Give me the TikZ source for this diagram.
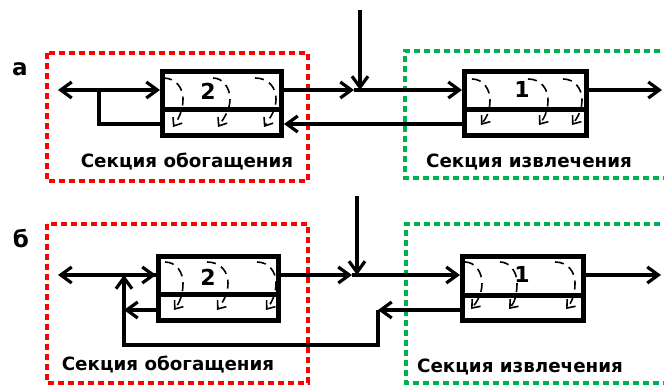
\documentclass[tikz,border=0pt]{standalone}
\usepackage{fontspec}
\setmainfont{DejaVu Sans}
\usetikzlibrary{arrows.meta,calc}
\begin{document}
\begin{tikzpicture}[x=1pt,y=-1pt,
  conn/.style={line width=3.2pt},
  tip/.style={-{Straight Barb[length=11pt,width=16pt]}},
  boxst/.style={draw, line width=5pt, inner sep=0pt, minimum height=64pt},
  divider/.style={line width=5pt},
  swirl/.style={line width=1.6pt, dash pattern=on 9pt off 6pt, -{Straight Barb[length=7pt,width=11pt]}},
  lbl/.style={font=\bfseries\fontsize{23}{26}\selectfont, inner sep=0pt},
  num/.style={font=\bfseries\fontsize{22}{26}\selectfont, inner sep=0pt},
  sec/.style={font=\bfseries\fontsize{18.3}{22}\selectfont, inner sep=0pt}]
\useasboundingbox (0,0) rectangle (664,385);
\definecolor{secgreen}{RGB}{0,176,80}
\tikzset{redsec/.style={draw=red, line width=3.2pt, dash pattern=on 6pt off 4pt},
         greensec/.style={draw=secgreen, line width=3.2pt, dash pattern=on 6pt off 4pt}}

% ---------- section frames ----------
\draw[redsec] (47,53) rectangle (308,181);
\draw[greensec] (680,51) -- (405,51) -- (405,178) -- (680,178);
\draw[redsec] (47,224) rectangle (308,383);
\draw[greensec] (680,224) -- (406,224) -- (406,383) -- (680,383);

% ---------- labels ----------
\node[lbl] (la) at (20,69) {а};
\node[lbl] (lb) at (21,239) {б};

% ================= a =================
\node[boxst, minimum width=119pt] (B2a) at (222,103.5) {};
\node[boxst, minimum width=122pt] (B1a) at (525.5,103.5) {};
\draw[divider] (B2a.west |- 0,110) -- (B2a.east |- 0,110);
\draw[divider] (B1a.west |- 0,110) -- (B1a.east |- 0,110);
\node[num] (n2a) at (208,91) {2};
\node[num] (n1a) at (522,89) {1};

\coordinate (LoutA) at (58,90);
\coordinate (JtA) at (99,90);
\coordinate (JbA) at (99,124);
\coordinate (mA) at (354,90);
\coordinate (feedA) at (360,10);
\coordinate (JfA) at (360,90);
\coordinate (RoutA) at (662,90);

\draw[conn,tip] (JtA) -- (LoutA);
\draw[conn,tip] (JtA) -- (B2a.west |- JtA);
\draw[conn] (B2a.west |- JbA) -- (JbA) -- (JtA);
\draw[conn,tip] (B2a.east |- mA) -- (mA);
\draw[conn,tip] (mA) -- (B1a.west |- mA);
\draw[conn,tip] (feedA) -- (JfA);
\draw[conn,tip] (B1a.east |- RoutA) -- (RoutA);
\draw[conn,tip] (B1a.west |- JbA) -- (B2a.east |- JbA);

\foreach \s/\m/\t in {163/183/173, 213/230/218, 255/276/264}
  \draw[swirl] (\s,78) .. controls (\m-7,78) and (\m,88) .. (\m,99)
                       .. controls (\m,110) and (\t+6,118) .. (\t,127);
\foreach \s/\m/\t in {472/490/481, 528/548/539, 563/582/572}
  \draw[swirl] (\s,79) .. controls (\m-7,79) and (\m,89) .. (\m,100)
                       .. controls (\m,110) and (\t+6,117) .. (\t,125);

\node[sec] (s2a) at (187,162) {Секция обогащения};
\node[sec] (s1a) at (529,162) {Секция извлечения};

% ================= b =================
\node[boxst, minimum width=120pt] (B2b) at (218.5,288.5) {};
\node[boxst, minimum width=121pt] (B1b) at (523,288.5) {};
\draw[divider] (B2b.west |- 0,294) -- (B2b.east |- 0,294);
\draw[divider] (B1b.west |- 0,295) -- (B1b.east |- 0,295);
\node[num] (n2b) at (208,277) {2};
\node[num] (n1b) at (522,274) {1};

\coordinate (LoutB) at (58,275);
\coordinate (JtB) at (124,275);
\coordinate (JmB) at (124,310);
\coordinate (JbB) at (124,345);
\coordinate (CbB) at (378,345);
\coordinate (CtB) at (378,310);
\coordinate (mB) at (352,275);
\coordinate (feedB) at (357,196);
\coordinate (JfB) at (357,275);
\coordinate (RoutB) at (661,275);

\draw[conn,tip] (B2b.west |- JtB) -- (LoutB);
\draw[conn,tip] (JtB) -- (B2b.west |- JtB);
\draw[conn,tip] (B2b.west |- JmB) -- (JmB);
\draw[conn,tip] (CtB) -- (CbB) -- (JbB) -- (JtB);
\draw[conn,tip] (B1b.west |- CtB) -- (CtB);
\draw[conn,tip] (B2b.east |- mB) -- (mB);
\draw[conn,tip] (mB) -- (B1b.west |- mB);
\draw[conn,tip] (feedB) -- (JfB);
\draw[conn,tip] (B1b.east |- RoutB) -- (RoutB);

\foreach \s/\m/\t in {165/183/174, 207/228/217, 257/276/266}
  \draw[swirl] (\s,262) .. controls (\m-7,262) and (\m,272) .. (\m,283)
                        .. controls (\m,294) and (\t+6,302) .. (\t,310);
\foreach \s/\m/\t in {465/482/471, 500/517/509, 555/575/566}
  \draw[swirl] (\s,262) .. controls (\m-7,262) and (\m,272) .. (\m,283)
                        .. controls (\m,294) and (\t+6,302) .. (\t,309);

\node[sec] (s2b) at (168,365) {Секция обогащения};
\node[sec] (s1b) at (520,367) {Секция извлечения};
\end{tikzpicture}
\end{document}
